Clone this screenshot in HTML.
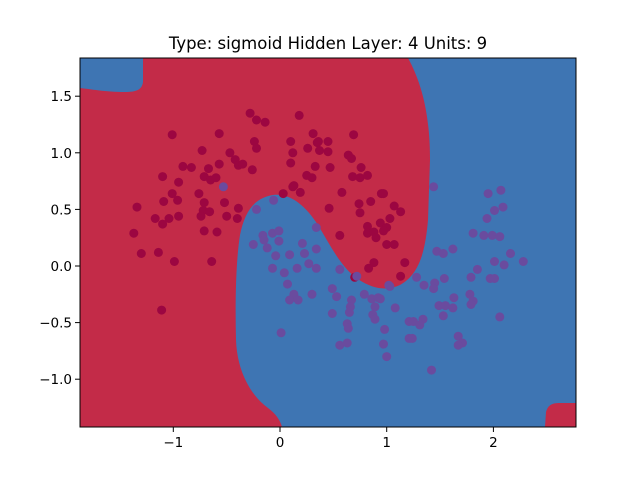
<!DOCTYPE html>
<html><head><meta charset="utf-8"><style>
body{margin:0;background:#fff;}
svg{display:block;font-family:"DejaVu Sans","Liberation Sans",sans-serif;}
</style></head><body>
<svg id="chart" width="640" height="480" viewBox="0 0 640 480">
<rect width="640" height="480" fill="#fff"/>
<text x="328" y="49" font-size="16.5" text-anchor="middle" fill="#000">Type: sigmoid Hidden Layer: 4 Units: 9</text>
<defs><clipPath id="clip"><rect x="80" y="58" width="496" height="369"/></clipPath></defs>
<g clip-path="url(#clip)">
<rect x="80" y="58" width="496" height="369" fill="#c32b48"/>
<path d="M408,58 C420,80 430,110 430,160 L428,220 C425,255 418,275 400,285 C385,292 370,288 355,277 C340,265 330,245 318,225 C305,205 290,193 273,195 C255,198 245,210 240,235 C236,260 235,300 236,340 C237,370 250,395 268,408 C276,414 280,420 282,427 L576,427 L576,58 Z" fill="#3e75b3"/>
<path d="M80,58 L143,58 L143,82 C142,90 136,92 125,92 C105,92 90,89 80,88 Z" fill="#3e75b3"/>
<path d="M545,427 L546,412 C548,405 552,403 560,403 L576,403 L576,427 Z" fill="#c32b48"/>
</g>
<g id="points"></g>
<g id="axes"></g>
</svg>
<script>
const class0X=[-0.28,-0.22,-0.14,0.18,-1.01,-0.57,0.31,-0.24,-0.22,0.10,0.35,-0.73,-0.47,0.12,0.26,-0.42,-0.39,-0.35,-0.26,-0.57,-0.91,-0.83,-0.67,0.10,0.33,-1.10,-0.95,-0.71,-0.65,-0.60,0.25,0.30,-0.76,-1.01,-0.96,-1.09,-0.71,-0.52,-0.39,-1.34,-0.72,-0.66,-0.74,-0.50,-0.40,-0.95,-1.17,-1.04,-1.10,-1.37,-0.71,-0.59,-1.30,-1.14,-0.99,-0.64,-1.11,0.03,0.12,0.19,0.13,0.45,0.36,0.37,0.45,0.64,0.67,0.47,0.76,0.68,0.75,0.82,0.69,0.58,0.95,0.46,0.74,0.85,0.75,1.07,1.13,1.03,0.82,0.94,1.00,0.82,0.88,0.90,0.97,0.56,1.00,1.07,0.88,0.83,1.17,1.13,0.70,0.97];
const class0Y=[1.35,1.29,1.27,1.33,1.16,1.17,1.17,1.10,1.04,1.10,1.09,1.02,1.00,1.00,1.04,0.94,0.89,0.90,0.85,0.90,0.88,0.87,0.86,0.91,0.88,0.79,0.74,0.79,0.76,0.78,0.80,0.78,0.64,0.64,0.58,0.57,0.56,0.56,0.51,0.52,0.49,0.48,0.44,0.44,0.42,0.44,0.42,0.42,0.37,0.29,0.31,0.30,0.11,0.12,0.04,0.04,-0.39,0.64,0.70,0.65,0.71,1.10,1.10,1.02,1.01,0.98,0.95,0.87,0.87,0.79,0.78,0.80,1.16,0.65,0.64,0.51,0.55,0.57,0.47,0.53,0.48,0.42,0.35,0.38,0.34,0.29,0.30,0.25,0.31,0.27,0.19,0.19,0.03,-0.02,0.03,-0.09,-0.10,0.64];
const class1X=[-0.53,-0.06,-0.22,0.34,-0.16,-0.07,-0.01,-0.25,-0.12,-0.01,-0.15,0.21,0.34,-0.04,0.09,0.23,-0.07,0.04,0.16,0.27,0.34,0.56,0.72,1.28,0.07,0.49,0.53,0.30,0.13,0.09,0.17,0.67,0.66,0.79,0.86,0.92,0.89,1.08,1.03,0.49,0.65,0.87,0.89,0.63,0.64,0.98,1.21,1.21,0.01,0.56,0.63,0.97,1.00,1.44,1.95,2.07,2.01,2.09,1.94,1.81,1.91,1.99,2.06,1.47,1.53,1.62,2.16,2.28,2.01,2.10,1.85,1.79,1.97,2.01,1.54,1.45,1.35,1.44,1.02,0.94,1.63,1.78,1.81,1.79,1.49,1.55,1.62,1.53,2.06,1.25,1.34,1.31,1.67,1.71,1.67,1.24,1.42];
const class1Y=[0.70,0.58,0.50,0.34,0.27,0.29,0.31,0.19,0.16,0.22,0.23,0.20,0.15,0.09,0.10,0.11,-0.02,-0.06,-0.02,0.02,-0.02,-0.03,-0.09,-0.10,-0.16,-0.20,-0.27,-0.25,-0.25,-0.30,-0.30,-0.30,-0.36,-0.25,-0.29,-0.28,-0.36,-0.37,-0.18,-0.42,-0.41,-0.43,-0.47,-0.51,-0.55,-0.56,-0.49,-0.64,-0.59,-0.70,-0.68,-0.69,-0.80,0.70,0.64,0.67,0.49,0.52,0.42,0.29,0.27,0.27,0.26,0.13,0.11,0.15,0.11,0.04,0.04,0.01,-0.03,-0.10,-0.11,-0.11,-0.11,-0.15,-0.17,-0.20,-0.17,-0.29,-0.28,-0.25,-0.31,-0.34,-0.35,-0.35,-0.37,-0.44,-0.45,-0.49,-0.47,-0.52,-0.62,-0.68,-0.70,-0.64,-0.92];
const xTicks=[-1,0,1,2];
const yTicks=[-1.0,-0.5,0.0,0.5,1.0,1.5];
const yTickLabels=["−1.0","−0.5","0.0","0.5","1.0","1.5"];
const xTickLabels=["−1","0","1","2"];

const NS="http://www.w3.org/2000/svg";
function xs(v){return 280+v*106.7;}
function ys(v){return 266-v*113.2;}
const pts=document.getElementById('points');
function drawPts(X,Y,color,name){
  for(let i=0;i<X.length;i++){
    const c=document.createElementNS(NS,'circle');
    c.setAttribute('cx',xs(X[i]).toFixed(1));
    c.setAttribute('cy',ys(Y[i]).toFixed(1));
    c.setAttribute('r','4.5');
    c.setAttribute('fill',color);
    
    
    pts.appendChild(c);
  }
}
drawPts(class0X,class0Y,'#9c0641','class-0-point');
drawPts(class1X,class1Y,'#6a4b9e','class-1-point');

const ax=document.getElementById('axes');
const frame=document.createElementNS(NS,'rect');
frame.setAttribute('x','80');frame.setAttribute('y','58');frame.setAttribute('width','496');frame.setAttribute('height','369');
frame.setAttribute('fill','none');frame.setAttribute('stroke','#000');frame.setAttribute('stroke-width','1');


ax.appendChild(frame);
xTicks.forEach((t,i)=>{
  const x=xs(t);
  const l=document.createElementNS(NS,'line');
  l.setAttribute('x1',x);l.setAttribute('x2',x);l.setAttribute('y1','427');l.setAttribute('y2','432');l.setAttribute('stroke','#000');
  
  
  ax.appendChild(l);
  const tx=document.createElementNS(NS,'text');
  tx.setAttribute('x',x);tx.setAttribute('y','447');tx.setAttribute('font-size','13.5');tx.setAttribute('text-anchor','middle');
  tx.textContent=xTickLabels[i];
  
  
  ax.appendChild(tx);
});
yTicks.forEach((t,i)=>{
  const y=ys(t);
  const l=document.createElementNS(NS,'line');
  l.setAttribute('x1','75');l.setAttribute('x2','80');l.setAttribute('y1',y);l.setAttribute('y2',y);l.setAttribute('stroke','#000');
  
  
  ax.appendChild(l);
  const tx=document.createElementNS(NS,'text');
  tx.setAttribute('x','72');tx.setAttribute('y',y+5);tx.setAttribute('font-size','13.5');tx.setAttribute('text-anchor','end');
  tx.textContent=yTickLabels[i];
  
  
  ax.appendChild(tx);
});
</script>
</body></html>
